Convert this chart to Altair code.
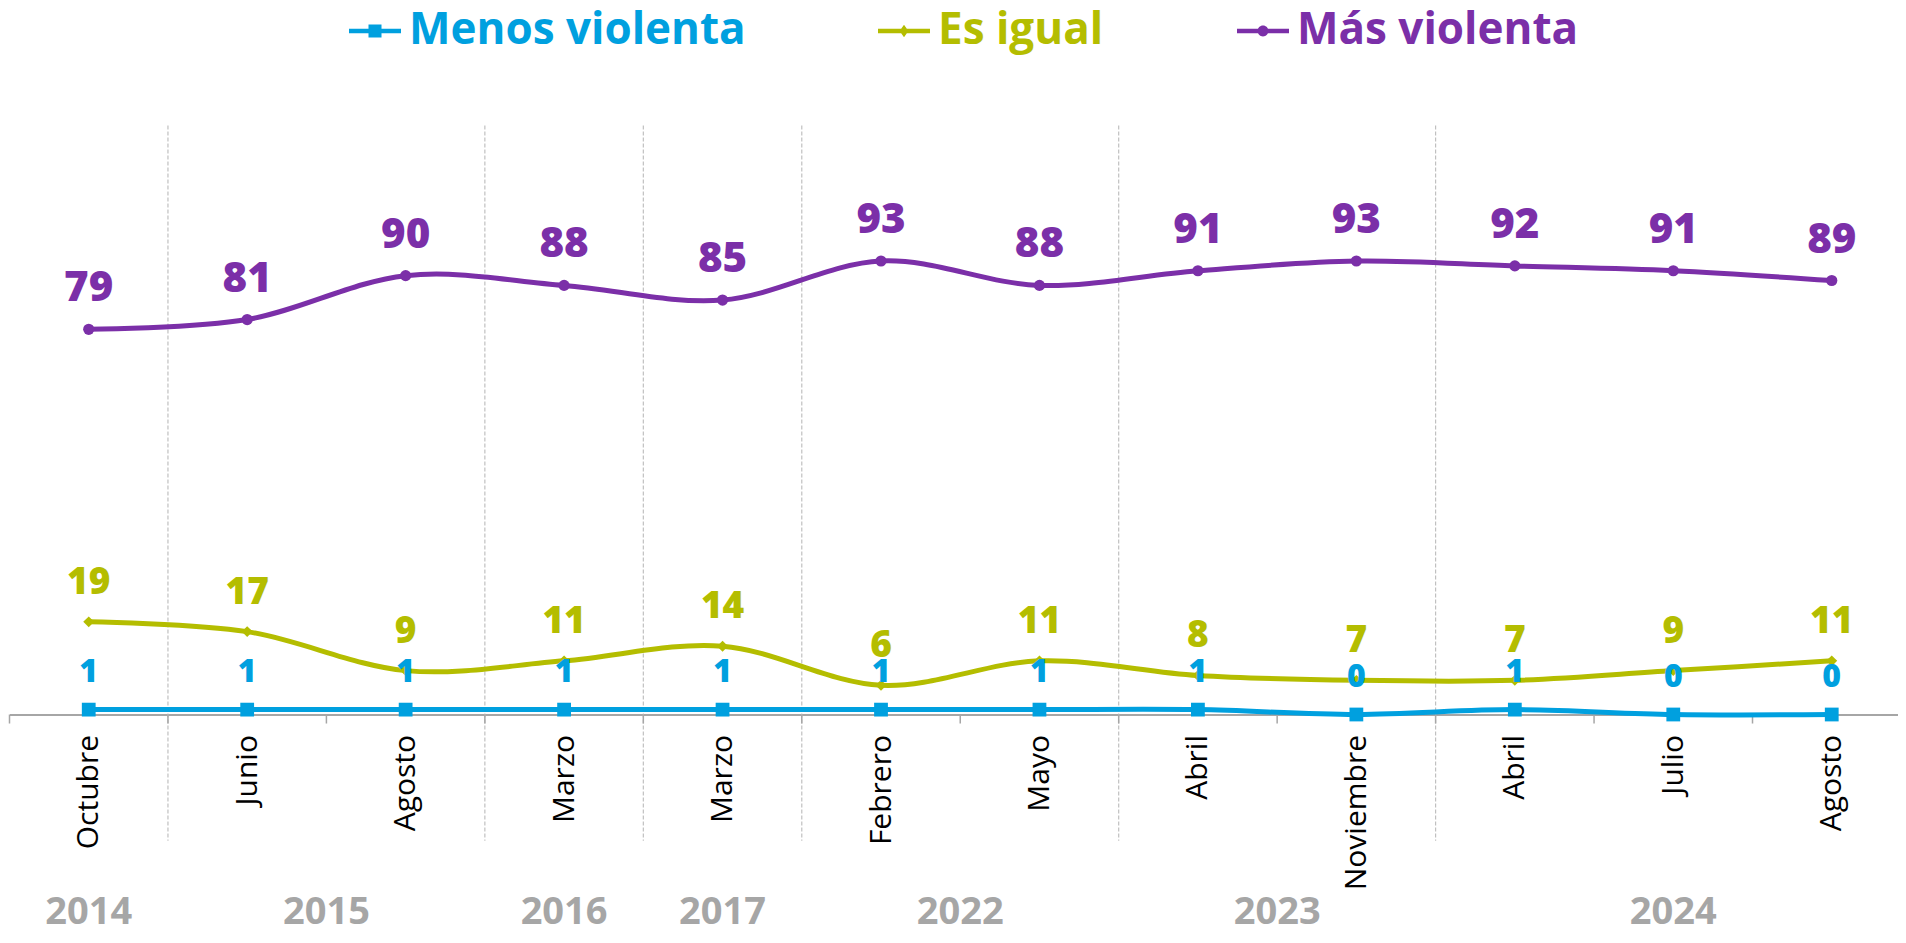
import json
import altair as alt
import pandas as pd

# ---- data ----
months = ["Octubre", "Junio", "Agosto", "Marzo", "Marzo", "Febrero",
          "Mayo", "Abril", "Noviembre", "Abril", "Julio", "Agosto"]
years = ["2014", "2015", "2015", "2016", "2017", "2022",
         "2022", "2023", "2023", "2024", "2024", "2024"]
menos_violenta = [1, 1, 1, 1, 1, 1, 1, 1, 0, 1, 0, 0]
es_igual = [19, 17, 9, 11, 14, 6, 11, 8, 7, 7, 9, 11]
mas_violenta = [79, 81, 90, 88, 85, 93, 88, 91, 93, 92, 91, 89]

series_names = ["Menos violenta", "Es igual", "Más violenta"]
series_colors = ["#00A0DF", "#B4BD00", "#7B2FA8"]
series_values = [menos_violenta, es_igual, mas_violenta]
label_sizes = [32, 37, 42]

FONT = "Open Sans"
GRAY = "#A6A6A6"

rows = []
for name, vals in zip(series_names, series_values):
    for i, v in enumerate(vals):
        rows.append({"idx": i, "month": months[i], "year": years[i],
                     "series": name, "value": v})
df = pd.DataFrame(rows)

# year group labels (centre of each year's categories)
year_rows = []
for y in dict.fromkeys(years):
    pos = [i for i, yy in enumerate(years) if yy == y]
    year_rows.append({"year": y, "pos": sum(pos) / len(pos), "yv": -42.9})
year_df = pd.DataFrame(year_rows)

# separators between year groups, ticks at every category boundary
sep_df = pd.DataFrame([{"pos": i - 0.5, "top": 120.8, "bottom": -25.9}
                       for i in range(1, len(years)) if years[i] != years[i - 1]])
tick_df = pd.DataFrame([{"pos": i - 0.5, "top": 0, "bottom": -1.85}
                        for i in range(len(years) + 1)])

xscale = alt.Scale(domain=[-0.5, 11.415], nice=False, zero=False)
yscale = alt.Scale(domain=[0, 121], nice=False, zero=False)

label_expr = json.dumps(months) + "[datum.value]"
xaxis = alt.Axis(values=list(range(len(months))), labelExpr=label_expr,
                 labelAngle=270, labelAlign="right", labelBaseline="middle",
                 ticks=False, tickSize=0, grid=False,
                 domainColor=GRAY, domainWidth=2,
                 labelFont=FONT, labelFontSize=30, labelColor="#000000",
                 labelPadding=20, labelFlush=False, labelOverlap=False,
                 labelLimit=400, title=None)


def X(field):
    return alt.X(field, scale=xscale, axis=xaxis, title=None)


def Y(field):
    return alt.Y(field, scale=yscale, axis=None, title=None)


base = alt.Chart(df)

lines = base.mark_line(interpolate="cardinal", tension=0, strokeWidth=5).encode(
    x=X("idx:Q"), y=Y("value:Q"),
    stroke=alt.Stroke("series:N", scale=alt.Scale(domain=series_names, range=series_colors),
                      legend=None),
    detail="series:N",
)

pt_blue = base.transform_filter(alt.datum.series == series_names[0]).mark_square(
    size=190, opacity=1, color=series_colors[0]).encode(x=X("idx:Q"), y=Y("value:Q"))
pt_olive = base.transform_filter(alt.datum.series == series_names[1]).mark_point(
    shape="diamond", filled=True, size=120, opacity=1, color=series_colors[1]).encode(
    x=X("idx:Q"), y=Y("value:Q"))
pt_purple = base.transform_filter(alt.datum.series == series_names[2]).mark_circle(
    size=125, opacity=1, color=series_colors[2]).encode(x=X("idx:Q"), y=Y("value:Q"))

label_layers = []
for name, col, fs in zip(series_names, series_colors, label_sizes):
    label_layers.append(
        base.transform_filter(alt.datum.series == name).mark_text(
            dy=-28, baseline="alphabetic", align="center", color=col,
            font=FONT, fontSize=fs, fontWeight=800).encode(
            x=X("idx:Q"), y=Y("value:Q"), text="value:Q"))

seps = alt.Chart(sep_df).mark_rule(color="#C0C0C0", strokeDash=[4, 2], strokeWidth=1.2).encode(
    x=X("pos:Q"), y=Y("top:Q"), y2="bottom:Q")

ticks = alt.Chart(tick_df).mark_rule(color=GRAY, strokeWidth=1.5).encode(
    x=X("pos:Q"), y=Y("top:Q"), y2="bottom:Q")

year_text = alt.Chart(year_df).mark_text(font=FONT, fontSize=38, fontWeight="bold",
                                         color=GRAY, baseline="alphabetic").encode(
    x=X("pos:Q"), y=Y("yv:Q"), text="year:N")

# ---- legend: one single-entry legend per series (line + marker symbol) ----
line_part = "M-1,-0.09H1V0.09H-1Z "
legend_shapes = [
    line_part + "M-0.25,-0.25H0.25V0.25H-0.25Z",
    line_part + "M0,-0.24L0.17,0L0,0.24L-0.17,0Z",
    line_part + "M-0.21,0A0.21,0.21 0 1,1 0.21,0A0.21,0.21 0 1,1 -0.21,0Z",
]
legend_x = [339.5, 868.5, 1227.5]
SYM = 2704
legend_specs = [
    ("opacity", alt.Opacity, 1),
    ("size", alt.Size, SYM),
    ("fill", alt.Fill, None),
]

legend_layers = []
for (name, col, shp, lx, spec) in zip(series_names, series_colors, legend_shapes,
                                      legend_x, legend_specs):
    key, chan, rng = spec
    rng = col if rng is None else rng
    leg = alt.Legend(orient="none", legendX=lx, legendY=-119.5, direction="horizontal",
                     title=None, labelFont=FONT, labelFontSize=44, labelFontWeight="bold",
                     labelLimit=700, symbolSize=SYM, symbolStrokeWidth=0,
                     symbolType=shp, symbolFillColor=col, symbolOpacity=1,
                     labelOffset=8, labelColor=col)
    hidden = pd.DataFrame({"series": [name], "idx": [-50], "value": [50]})
    layer = alt.Chart(hidden).mark_point(
        filled=True, size=SYM, clip=True, strokeWidth=0, opacity=1,
        color=col, shape=shp).encode(
        x=X("idx:Q"), y=Y("value:Q"),
        **{key: chan("series:O", scale=alt.Scale(type="ordinal", domain=[name], range=[rng]),
                     legend=leg)})
    legend_layers.append(layer)

chart = alt.layer(
    seps, ticks, lines, pt_blue, pt_olive, pt_purple, *label_layers, year_text,
    *legend_layers
).properties(
    width=1888, height=590,
    padding={"left": 1.5, "top": 116.5, "right": 0, "bottom": 220.5},
    autosize=alt.AutoSizeParams(type="none"),
).configure_view(stroke=None)

chart.save("out.html", embed_options={"renderer": "svg", "actions": False})
